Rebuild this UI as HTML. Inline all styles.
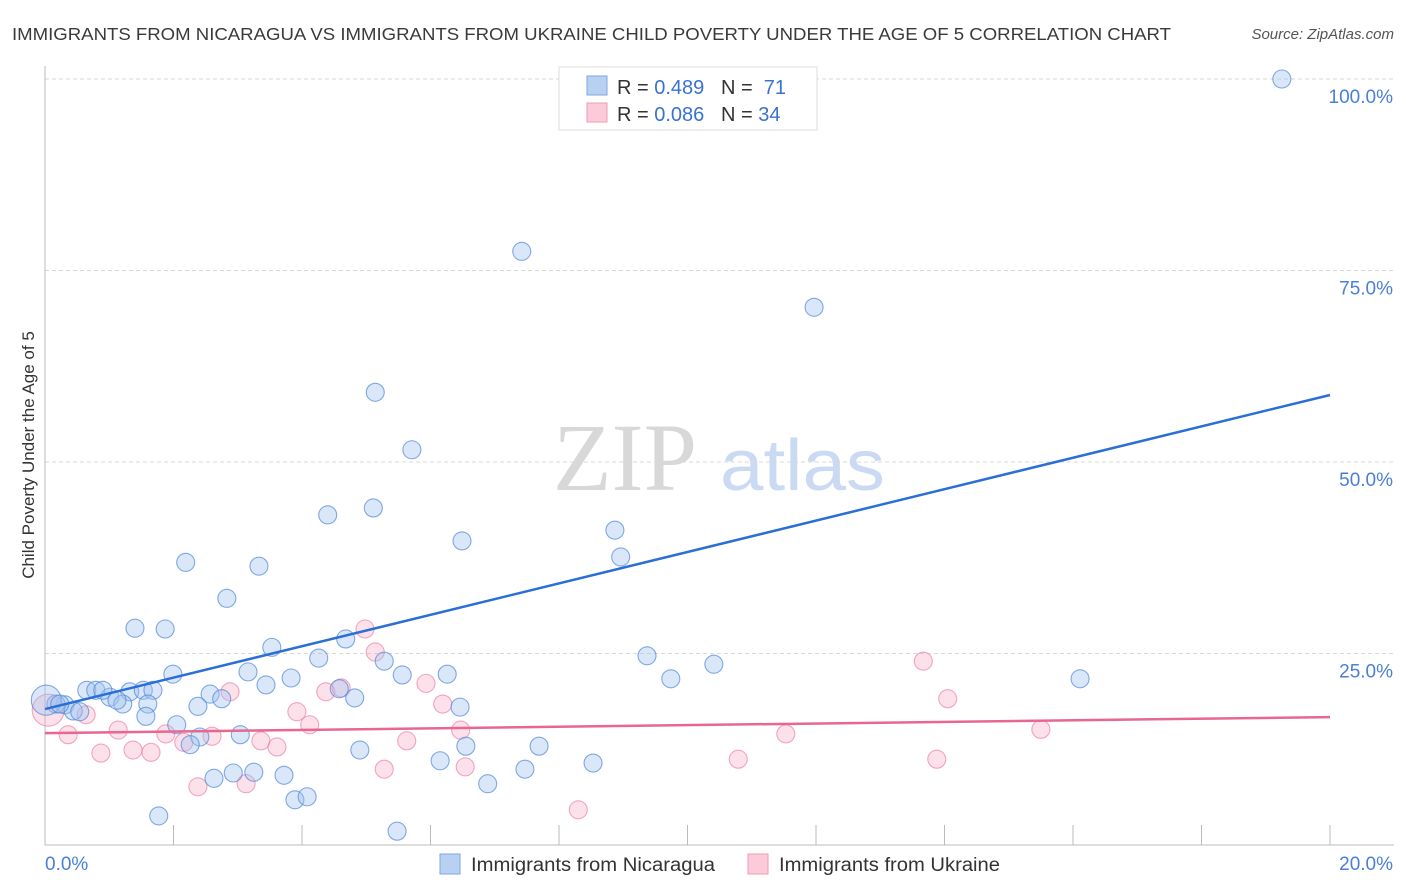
<!DOCTYPE html>
<html><head><meta charset="utf-8"><style>
body{margin:0;background:#fff;font-family:"Liberation Sans",sans-serif;}
svg{display:block}
text{white-space:pre}
</style></head><body>
<svg id="chart" width="1406" height="892" viewBox="0 0 1406 892">
<text x="12" y="40" font-size="17.5" fill="#3a3a3a" textLength="1159" lengthAdjust="spacingAndGlyphs">IMMIGRANTS FROM NICARAGUA VS IMMIGRANTS FROM UKRAINE CHILD POVERTY UNDER THE AGE OF 5 CORRELATION CHART</text>
<text x="1394" y="39" font-size="15" font-style="italic" fill="#555" text-anchor="end">Source: ZipAtlas.com</text>
<g>
<text x="553" y="490" font-size="96" font-family="Liberation Serif,serif" fill="#d8d8d8">ZIP</text>
<text x="720" y="490" font-size="72" fill="#c9daf2" textLength="165" lengthAdjust="spacingAndGlyphs">atlas</text>
</g>
<g id="grid"></g>
<g id="axes"></g>
<g id="pts"></g>
<g id="lines"></g>
<text transform="translate(34,455) rotate(-90)" font-size="17" fill="#333" text-anchor="middle">Child Poverty Under the Age of 5</text>
<g>
<rect x="559" y="67" width="258" height="63" fill="#fff" stroke="#ddd"/>
<rect x="587" y="76" width="20" height="19" fill="#b8d1f3" stroke="#7fa6e0"/>
<text x="617" y="94" font-size="20" fill="#333">R = <tspan fill="#3a72d0">0.489</tspan>   N =  <tspan fill="#3a72d0">71</tspan></text>
<rect x="587" y="103" width="20" height="19" fill="#fccbd9" stroke="#f09ab5"/>
<text x="617" y="121" font-size="20" fill="#333">R = <tspan fill="#3a72d0">0.086</tspan>   N = <tspan fill="#3a72d0">34</tspan></text>
</g>
<g>
<rect x="440" y="854" width="20" height="20" fill="#b8d1f3" stroke="#7fa6e0"/>
<text x="471" y="871" font-size="19" fill="#333" textLength="244" lengthAdjust="spacingAndGlyphs">Immigrants from Nicaragua</text>
</g>
<g>
<rect x="748" y="854" width="20" height="20" fill="#fccbd9" stroke="#f09ab5"/>
<text x="779" y="871" font-size="19" fill="#333" textLength="221" lengthAdjust="spacingAndGlyphs">Immigrants from Ukraine</text>
</g>
</svg>
<script>
const blueX=[19.25,7.42,11.97,5.14,5.71,4.40,5.11,6.49,8.87,8.96,2.19,3.33,2.83,1.40,1.87,3.53,4.68,4.26,3.16,1.99,5.28,6.26,9.37,10.41,9.74,16.11,5.56,3.44,3.83,0.65,0.79,1.32,1.53,1.68,2.57,2.75,1.01,1.21,1.60,4.82,4.58,2.38,1.57,0.31,0.17,0.44,0.54,6.46,0.02,2.05,3.04,2.41,2.26,6.55,7.69,4.90,6.15,7.47,8.53,2.63,2.93,3.25,3.72,6.89,3.89,4.08,1.77,5.48,0.23,0.90,1.12];
const blueY=[100.0,77.5,70.2,59.1,51.6,43.1,44.0,39.7,41.1,37.6,36.9,36.4,32.2,28.3,28.2,25.8,26.9,24.4,22.6,22.3,24.0,22.3,24.7,23.6,21.7,21.7,22.2,20.9,21.8,20.2,20.2,20.0,20.2,20.2,19.7,19.1,19.3,18.4,18.4,19.2,20.4,18.1,16.8,18.3,18.4,17.5,17.4,18.0,18.9,15.7,14.4,14.1,13.1,12.9,12.9,12.4,11.0,9.9,10.7,8.7,9.4,9.5,9.1,8.0,5.9,6.3,3.8,1.8,18.4,20.2,18.9];
const pinkX=[0.05,0.36,0.64,0.87,1.14,1.37,1.65,1.88,2.16,2.38,2.60,2.88,3.13,3.36,3.61,3.92,4.12,4.37,4.61,4.98,5.14,5.28,5.63,5.93,6.19,6.47,6.54,8.30,10.79,11.53,13.67,14.05,13.88,15.50];
const pinkY=[17.6,14.4,17.0,12.0,15.0,12.4,12.1,14.5,13.4,7.6,14.2,20.0,8.0,13.6,12.8,17.4,15.7,20.0,20.5,28.2,25.2,9.9,13.6,21.1,18.4,15.0,10.2,4.6,11.2,14.5,24.0,19.1,11.2,15.1];
const blueTrend=[17.75,58.75];
const pinkTrend=[14.6,16.7];
const yTicks=[25,50,75,100];
const yTickLabels=["25.0%","50.0%","75.0%","100.0%"];
const xMin=0,xMax=20;
const NS="http://www.w3.org/2000/svg";
const sx=v=>45+(v-xMin)/(xMax-xMin)*1285;
const sy=v=>845-v*7.66;
function mk(tag,attrs,parent){const e=document.createElementNS(NS,tag);for(const k in attrs)e.setAttribute(k,attrs[k]);parent.appendChild(e);return e;}
const grid=document.getElementById('grid'),axes=document.getElementById('axes'),pts=document.getElementById('pts'),lines=document.getElementById('lines');
yTicks.forEach((t,i)=>{
 const l=mk('line',{x1:45,x2:1394,y1:sy(t),y2:sy(t),stroke:'#d8d8d8','stroke-dasharray':'4,3'},grid);
 
 
 const tx=mk('text',{x:1393,y:sy(t)+24,'font-size':19,fill:'#4a7fd6','text-anchor':'end'},axes);
 
 
 tx.textContent=yTickLabels[i];
});
let a=mk('line',{x1:45,x2:45,y1:66,y2:845,stroke:'#bbb'},axes);


a=mk('line',{x1:45,x2:1394,y1:845,y2:845,stroke:'#bbb'},axes);


for(let i=1;i<=10;i++){
 const x=sx(i*2);
 const t=mk('line',{x1:x,x2:x,y1:825,y2:845,stroke:'#bbb'},axes);
 
 
}
let xl=mk('text',{x:45,y:870,'font-size':19,fill:'#4a7fd6'},axes);


xl.textContent="0.0%";
xl=mk('text',{x:1393,y:870,'font-size':19,fill:'#4a7fd6','text-anchor':'end'},axes);


xl.textContent="20.0%";
pinkX.forEach((x,i)=>{
 const c=mk('circle',{cx:sx(x),cy:sy(pinkY[i]),r:i===0?16:9,fill:'rgba(248,170,195,0.35)',stroke:'rgba(236,130,165,0.7)','stroke-width':1.1},pts);
 
 
});
blueX.forEach((x,i)=>{
 const c=mk('circle',{cx:sx(x),cy:sy(blueY[i]),r:i===48?15:9,fill:'rgba(160,195,240,0.4)',stroke:'rgba(80,135,215,0.7)','stroke-width':1.1},pts);
 
 
});
let tl=mk('line',{x1:sx(0),y1:sy(blueTrend[0]),x2:sx(20),y2:sy(blueTrend[1]),stroke:'#2a6fd6','stroke-width':2.5},lines);


tl=mk('line',{x1:sx(0),y1:sy(pinkTrend[0]),x2:sx(20),y2:sy(pinkTrend[1]),stroke:'#e8678f','stroke-width':2.5},lines);


</script>
</body></html>
